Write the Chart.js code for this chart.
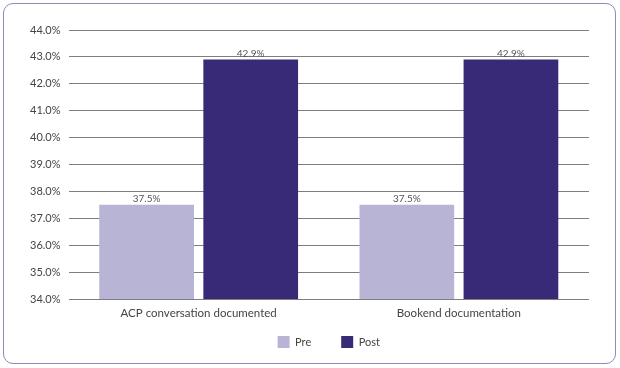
<!DOCTYPE html>
<html>
<head>
<meta charset="utf-8">
<script src="https://cdn.jsdelivr.net/npm/chart.js@4"></script>
<style>
  html, body { margin: 0; padding: 0; background: #fff; }
  #box {
    position: absolute; left: 3px; top: 3px;
    width: 611px; height: 359px;
    border: 1px solid #8f8abb; border-radius: 10px;
  }
  #box canvas { display: block; }
</style>
</head>
<body>
<div id="box"><canvas id="grafica" width="611" height="359"></canvas></div>
<script>
// datos del grafico
const categorias = ['ACP conversation documented', 'Bookend documentation'];
const valoresPre = [37.5, 37.5];
const valoresPost = [42.9, 42.9];
const nombresSeries = ['Pre', 'Post'];

const FUENTE = "'Lato', 'Noto Sans', sans-serif";

// etiquetas encima de las barras
const etiquetasBarras = {
  id: 'etiquetasBarras',
  afterDatasetsDraw(chart) {
    const ctx = chart.ctx;
    ctx.save();
    ctx.font = '10px ' + FUENTE;
    ctx.fillStyle = '#555';
    ctx.textAlign = 'center';
    ctx.textBaseline = 'bottom';
    chart.data.datasets.forEach((ds, i) => {
      chart.getDatasetMeta(i).data.forEach((bar, j) => {
        ctx.fillText(ds.data[j].toFixed(1) + '%', bar.x, bar.y - 1);
      });
    });
    ctx.restore();
  }
};

// centrar la leyenda bajo el area de la grafica
const leyendaCentrada = {
  id: 'leyendaCentrada',
  afterLayout(chart) {
    const l = chart.legend;
    if (!l) return;
    const off = (chart.chartArea.left + chart.chartArea.right) / 2 - (l.left + l.right) / 2;
    l.left += off;
    l.right += off;
  }
};

new Chart(document.getElementById('grafica').getContext('2d'), {
  type: 'bar',
  data: {
    labels: categorias,
    datasets: [
      { label: nombresSeries[0], data: valoresPre, backgroundColor: '#b8b4d6' },
      { label: nombresSeries[1], data: valoresPost, backgroundColor: '#392a77' }
    ]
  },
  options: {
    responsive: false,
    animation: false,
    categoryPercentage: 0.8,
    barPercentage: 0.91,
    layout: { padding: { top: 26, right: 26, bottom: 5, left: 18 } },
    plugins: {
      tooltip: { enabled: false },
      legend: {
        position: 'bottom',
        labels: {
          boxWidth: 12, boxHeight: 12, padding: 30,
          color: '#444', font: { family: FUENTE, size: 11 }
        }
      }
    },
    scales: {
      x: {
        grid: { display: false, drawTicks: false },
        border: { display: false },
        ticks: { color: '#444', font: { family: FUENTE, size: 11.5 }, padding: 7 },
        // el eje ocupa poco alto para que la leyenda quede cerca (sin recortar las etiquetas)
        afterFit: scale => {
          scale.height = 7;
          scale._computeLabelArea = () => undefined;
        }
      },
      y: {
        min: 34, max: 44,
        border: { display: false },
        grid: { color: '#7e7e7e', drawTicks: false },
        ticks: {
          stepSize: 1, padding: 8, color: '#444',
          font: { family: FUENTE, size: 11 },
          callback: v => v.toFixed(1) + '%'
        }
      }
    }
  },
  plugins: [etiquetasBarras, leyendaCentrada]
});
</script>
</body>
</html>
